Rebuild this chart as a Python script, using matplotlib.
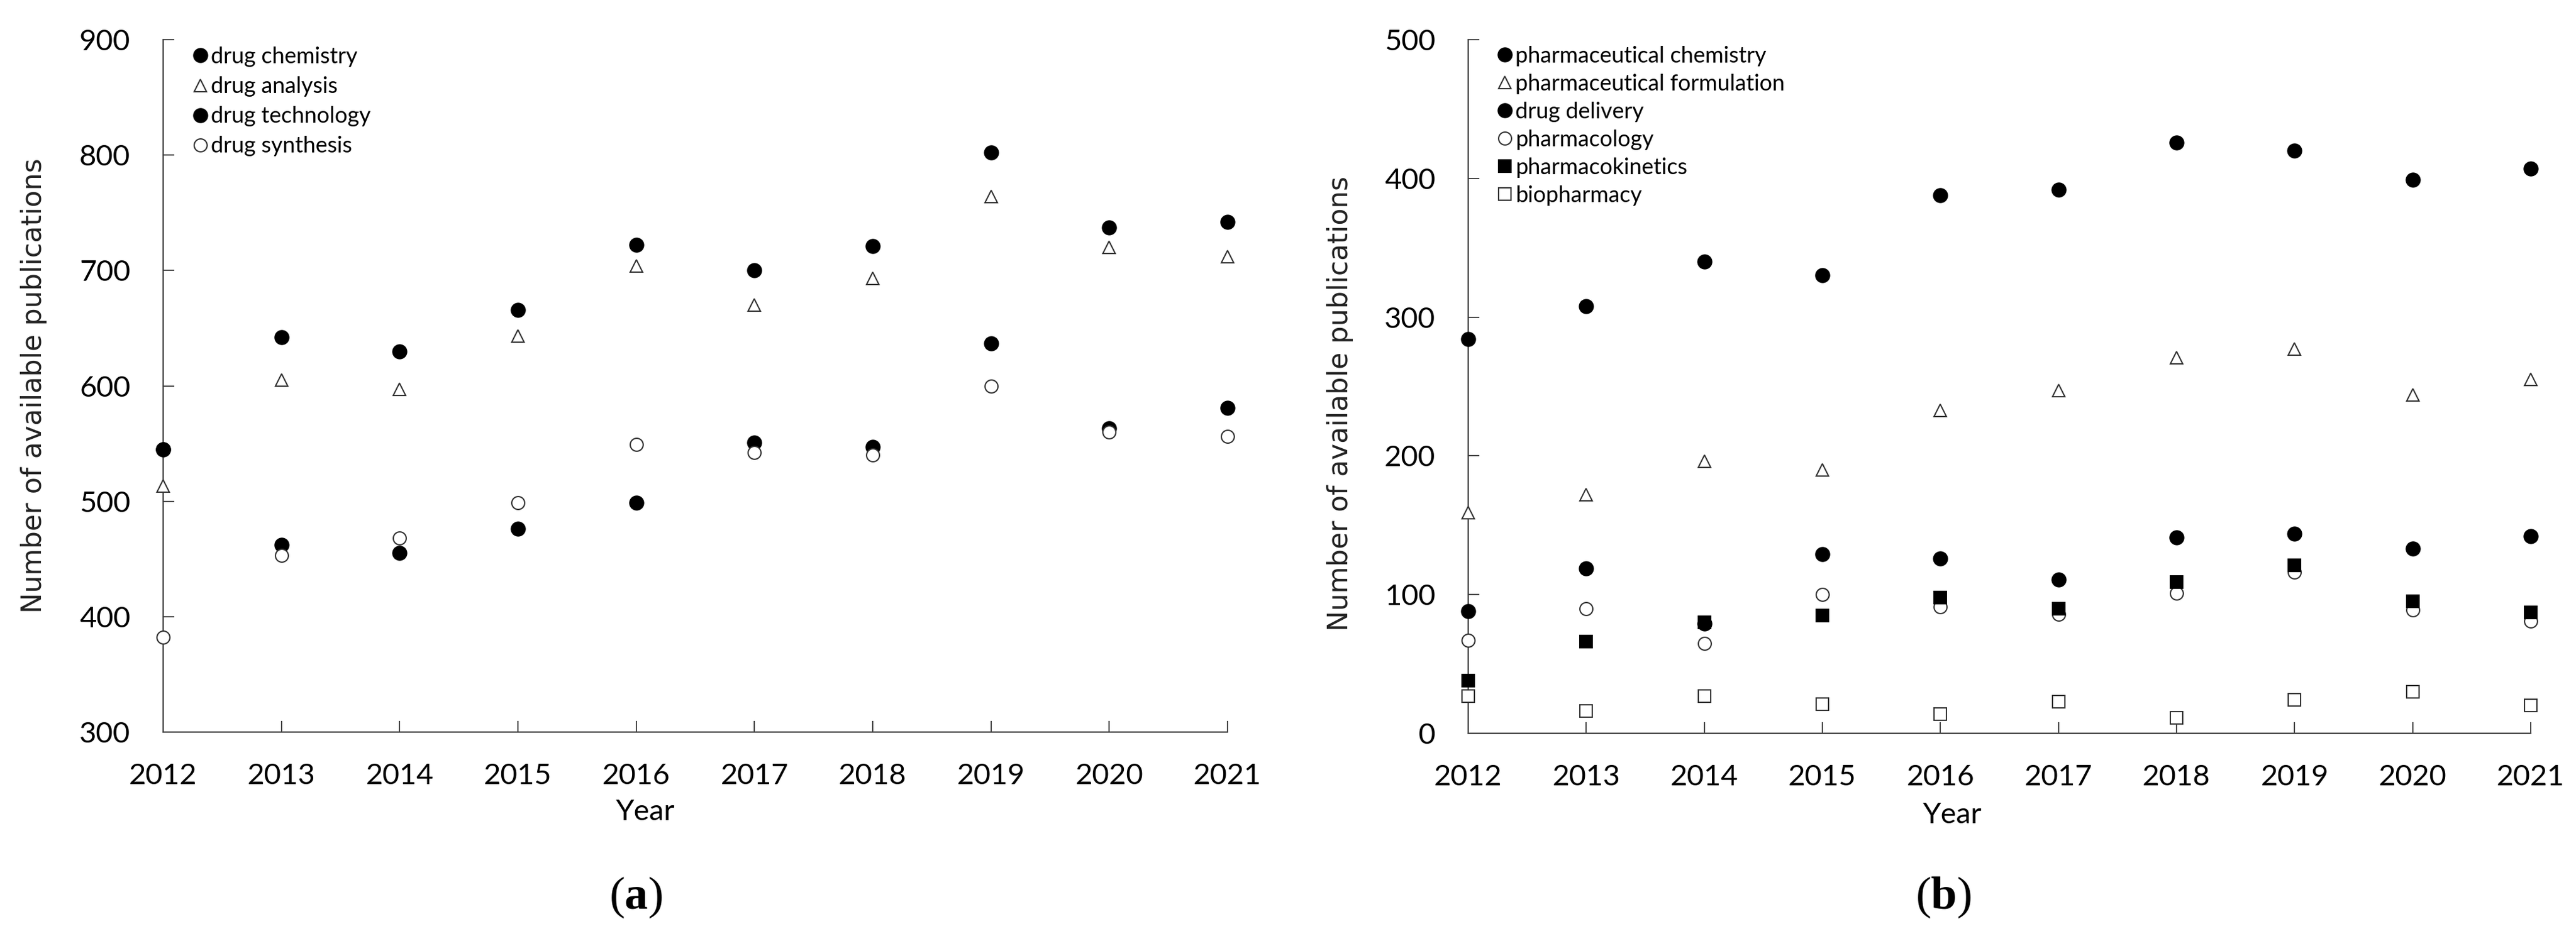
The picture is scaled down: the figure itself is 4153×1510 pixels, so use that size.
import matplotlib
matplotlib.use("Agg")
import matplotlib.pyplot as plt
import numpy as np

plt.rcParams["mathtext.fontset"] = "custom"
plt.rcParams["mathtext.rm"] = "Liberation Serif"
plt.rcParams["mathtext.bf"] = "Liberation Serif:bold"

years = [2012, 2013, 2014, 2015, 2016, 2017, 2018, 2019, 2020, 2021]

# Panel (a)
drug_chemistry = [545, 642, 630, 666, 722, 700, 721, 802, 737, 742]
drug_analysis = [513, 605, 597, 643, 704, 670, 693, 764, 720, 712]
drug_technology = [545, 462, 455, 476, 499, 551, 547, 637, 563, 581]
drug_synthesis = [382, 453, 468, 499, 549, 542, 540, 600, 560, 556]

# Panel (b)
pharm_chemistry = [284, 308, 340, 330, 388, 392, 426, 420, 399, 407]
pharm_formulation = [159, 172, 196, 190, 233, 247, 271, 277, 244, 255]
drug_delivery = [88, 119, 79, 129, 126, 111, 141, 144, 133, 142]
pharmacology = [67, 90, 65, 100, 91, 86, 101, 116, 89, 81]
pharmacokinetics = [38, 66, 80, 85, 98, 90, 109, 121, 95, 87]
biopharmacy = [27, 16, 27, 21, 14, 23, 11, 24, 30, 20]

W, H = 4153, 1510
DPI = 100
fig = plt.figure(figsize=(W / DPI, H / DPI), dpi=DPI)

TICKFONT = "Lato"
AXC = "#404040"
EDGE = "#303030"


def setup_axes(ax, ylim, yticks):
    ax.set_xlim(2012, 2021)
    ax.set_ylim(*ylim)
    ax.set_xticks(years)
    ax.set_yticks(yticks)
    for s in ["top", "right"]:
        ax.spines[s].set_visible(False)
    for s in ["left", "bottom"]:
        ax.spines[s].set_linewidth(1.6)
        ax.spines[s].set_color(AXC)
    ax.tick_params(axis="both", direction="in", length=13, width=1.4, color=AXC,
                   labelsize=34, labelcolor="black")
    ax.tick_params(axis="x", pad=36)
    ax.tick_params(axis="y", pad=38)
    for lab in ax.get_xticklabels() + ax.get_yticklabels():
        lab.set_fontfamily(TICKFONT)


def series(ax, y, marker, filled, label, ms=15):
    fc = "black" if filled else "white"
    ax.plot(years, y, linestyle="none", marker=marker, markersize=ms,
            markerfacecolor=fc, markeredgecolor="black" if filled else EDGE,
            markeredgewidth=1.5, clip_on=False, zorder=3, label=label)


LEGKW = dict(bbox_transform=fig.transFigure, frameon=False, numpoints=1,
             handlelength=0.55, handletextpad=0.2,
             borderpad=0, borderaxespad=0, markerscale=1.0,
             prop={"family": TICKFONT, "size": 26})

# ---------- Panel (a)
axa = fig.add_axes([263 / W, 1 - 1181 / H, (1979 - 263) / W, (1181 - 64) / H])
setup_axes(axa, (300, 900), [300, 400, 500, 600, 700, 800, 900])
series(axa, drug_chemistry, "o", True, "drug chemistry", 16)
series(axa, drug_analysis, "^", False, "drug analysis", 14)
series(axa, drug_technology, "o", True, "drug technology", 16)
series(axa, drug_synthesis, "o", False, "drug synthesis", 15)
axa.legend(loc="upper left", bbox_to_anchor=(313 / W, 1 - 75 / H),
           labelspacing=0.42, **LEGKW)

# ---------- Panel (b)
axb = fig.add_axes([2367 / W, 1 - 1183 / H, (4080 - 2367) / W, (1183 - 64) / H])
setup_axes(axb, (0, 500), [0, 100, 200, 300, 400, 500])
series(axb, pharm_chemistry, "o", True, "pharmaceutical chemistry", 16)
series(axb, pharm_formulation, "^", False, "pharmaceutical formulation", 14)
series(axb, drug_delivery, "o", True, "drug delivery", 16)
series(axb, pharmacology, "o", False, "pharmacology", 15)
series(axb, pharmacokinetics, "s", True, "pharmacokinetics", 14)
series(axb, biopharmacy, "s", False, "biopharmacy", 14)
axb.legend(loc="upper left", bbox_to_anchor=(2416 / W, 1 - 74 / H),
           labelspacing=0.33, **LEGKW)

# Axis labels
ylab = "Number of available publications"
fig.text(55 / W, 1 - 622 / H, ylab, rotation=90, ha="center", va="center",
         fontsize=32, family="DejaVu Sans", color="#222222")
fig.text(2160 / W, 1 - 651 / H, ylab, rotation=90, ha="center", va="center",
         fontsize=32, family="DejaVu Sans", color="#222222")
fig.text(1041 / W, 1 - 1310 / H, "Year", ha="center", va="center",
         fontsize=34, family=TICKFONT)
fig.text(3148 / W, 1 - 1315 / H, "Year", ha="center", va="center",
         fontsize=34, family=TICKFONT)

# Panel letters
for xc, letter in [(1025, "a"), (3133, "b")]:
    fig.text(xc / W, 1 - 1447 / H, r"$\mathrm{(}\mathbf{" + letter + r"}\mathrm{)}$",
             ha="center", va="center", fontsize=54)

fig.savefig("out.png", dpi=DPI)
